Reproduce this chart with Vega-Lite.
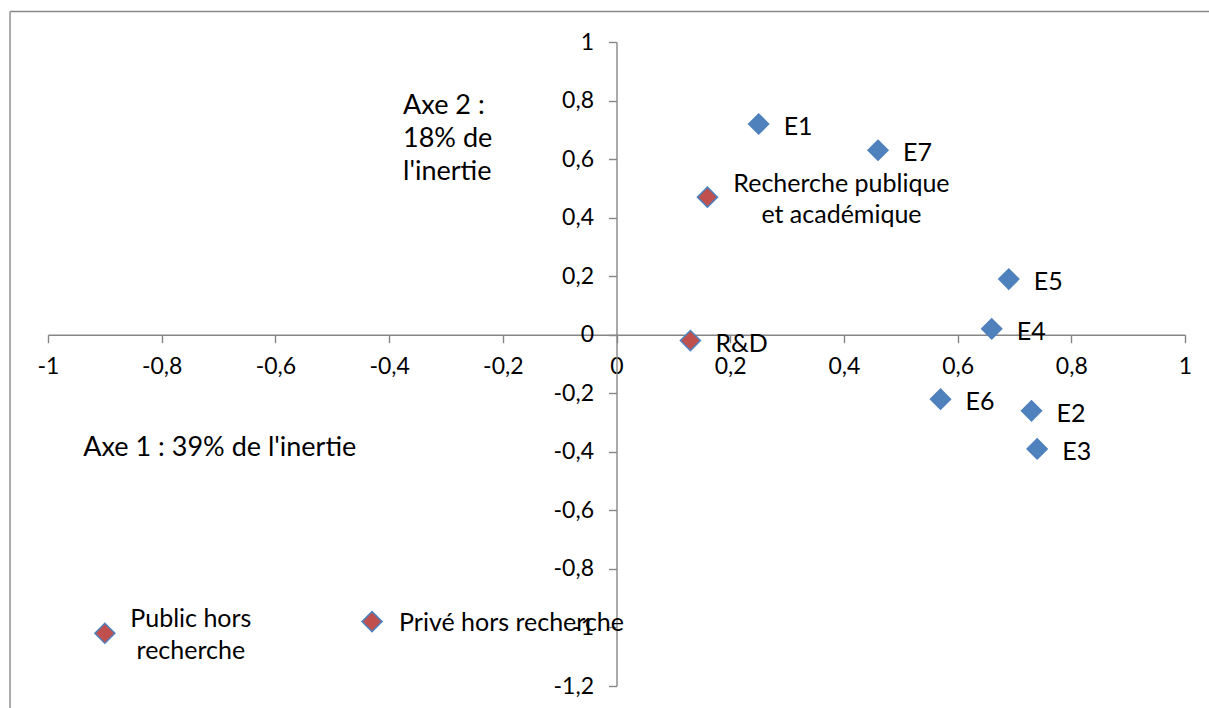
{
  "$schema": "https://vega.github.io/schema/vega-lite/v6.json",
  "autosize": {"type": "none"},
  "padding": {"left": 48, "top": 42, "right": 24, "bottom": 22},
  "width": 1137,
  "height": 644,
  "background": "white",
  "config": {
    "view": {"stroke": null},
    "font": "Lato",
    "text": {"font": "Lato", "fontSize": 25, "color": "#000000"}
  },
  "datasets": {
    "points": [
      {"label": "E1", "x": 0.25, "y": 0.72, "group": "E"},
      {"label": "E7", "x": 0.46, "y": 0.63, "group": "E"},
      {"label": "E5", "x": 0.69, "y": 0.19, "group": "E"},
      {"label": "E4", "x": 0.66, "y": 0.02, "group": "E"},
      {"label": "E6", "x": 0.57, "y": -0.22, "group": "E"},
      {"label": "E2", "x": 0.73, "y": -0.26, "group": "E"},
      {"label": "E3", "x": 0.74, "y": -0.39, "group": "E"},
      {"label": "Recherche publique\net académique", "x": 0.16, "y": 0.47, "group": "Secteur"},
      {"label": "R&D", "x": 0.13, "y": -0.02, "group": "Secteur"},
      {"label": "Public hors\nrecherche", "x": -0.9, "y": -1.02, "group": "Secteur"},
      {"label": "Privé hors recherche", "x": -0.43, "y": -0.98, "group": "Secteur"}
    ],
    "notes": [
      {"text": "Axe 2 :\n18% de\nl'inertie", "x": -0.3755, "y": 0.781},
      {"text": "Axe 1 : 39% de l'inertie", "x": -0.938, "y": -0.387}
    ]
  },
  "layer": [
    {
      "data": {"values": [{}]},
      "mark": {"type": "rule", "color": "#898989", "strokeWidth": 1.4, "clip": false},
      "encoding": {
        "x": {"datum": -1.0668, "type": "quantitative"},
        "x2": {"datum": 1.2},
        "y": {"datum": 1.104, "type": "quantitative"}
      }
    },
    {
      "data": {"values": [{}]},
      "mark": {"type": "rule", "color": "#898989", "strokeWidth": 1.4, "clip": false},
      "encoding": {
        "x": {"datum": -1.0668, "type": "quantitative"},
        "y": {"datum": 1.104, "type": "quantitative"},
        "y2": {"datum": -1.4}
      }
    },
    {
      "data": {"name": "points"},
      "mark": {"type": "point", "shape": "diamond", "filled": true, "size": 400, "opacity": 1, "strokeWidth": 1.5},
      "encoding": {
        "x": {
          "field": "x", "type": "quantitative",
          "scale": {"domain": [-1, 1], "nice": false, "zero": false},
          "axis": {
            "orient": "bottom", "offset": -351.3, "title": null,
            "values": [-1, -0.8, -0.6, -0.4, -0.2, 0, 0.2, 0.4, 0.6, 0.8, 1],
            "labelExpr": "replace(datum.value + '', '.', ',')",
            "grid": false, "domainColor": "#868686", "domainWidth": 1.4,
            "tickColor": "#868686", "tickWidth": 1.4, "tickSize": 8,
            "labelFont": "Lato", "labelFontSize": 23, "labelColor": "#000000",
            "labelPadding": 13, "labelFlush": false, "labelOverlap": false
          }
        },
        "y": {
          "field": "y", "type": "quantitative",
          "scale": {"domain": [-1.2, 1], "nice": false, "zero": false},
          "axis": {
            "orient": "left", "offset": -568.5, "title": null,
            "values": [-1.2, -1, -0.8, -0.6, -0.4, -0.2, 0, 0.2, 0.4, 0.6, 0.8, 1],
            "labelExpr": "replace(datum.value + '', '.', ',')",
            "grid": false, "domainColor": "#868686", "domainWidth": 1.4,
            "tickColor": "#868686", "tickWidth": 1.4, "tickSize": 8,
            "labelFont": "Lato", "labelFontSize": 23, "labelColor": "#000000",
            "labelPadding": 15, "labelFlush": false, "labelOverlap": false
          }
        },
        "fill": {
          "field": "group", "type": "nominal",
          "scale": {"domain": ["E", "Secteur"], "range": ["#4F81BD", "#C0504D"]},
          "legend": null
        },
        "stroke": {"value": "#4F81BD"}
      }
    },
    {
      "data": {"name": "points"},
      "transform": [{"filter": "datum.group == 'E' || datum.label == 'R&D'"}],
      "mark": {"type": "text", "align": "left", "baseline": "middle", "dx": 25, "dy": 3},
      "encoding": {
        "x": {"field": "x", "type": "quantitative"},
        "y": {"field": "y", "type": "quantitative"},
        "text": {"field": "label"}
      }
    },
    {
      "data": {"name": "points"},
      "transform": [{"filter": "datum.label == 'Privé hors recherche'"}],
      "mark": {"type": "text", "align": "left", "baseline": "middle", "dx": 27, "dy": 1},
      "encoding": {
        "x": {"field": "x", "type": "quantitative"},
        "y": {"field": "y", "type": "quantitative"},
        "text": {"field": "label"}
      }
    },
    {
      "data": {"name": "points"},
      "transform": [{"filter": "indexof(datum.label, 'Public') == 0"}],
      "mark": {"type": "text", "align": "center", "baseline": "middle", "dx": 86, "dy": -14, "lineBreak": "\n", "lineHeight": 32},
      "encoding": {
        "x": {"field": "x", "type": "quantitative"},
        "y": {"field": "y", "type": "quantitative"},
        "text": {"field": "label"}
      }
    },
    {
      "data": {"name": "points"},
      "transform": [{"filter": "indexof(datum.label, 'Recherche') == 0"}],
      "mark": {"type": "text", "align": "center", "baseline": "middle", "dx": 134, "dy": -13, "lineBreak": "\n", "lineHeight": 31},
      "encoding": {
        "x": {"field": "x", "type": "quantitative"},
        "y": {"field": "y", "type": "quantitative"},
        "text": {"field": "label"}
      }
    },
    {
      "data": {"name": "notes"},
      "mark": {"type": "text", "align": "left", "baseline": "middle", "lineBreak": "\n", "lineHeight": 33, "fontSize": 27},
      "encoding": {
        "x": {"field": "x", "type": "quantitative"},
        "y": {"field": "y", "type": "quantitative"},
        "text": {"field": "text"}
      }
    }
  ]
}
